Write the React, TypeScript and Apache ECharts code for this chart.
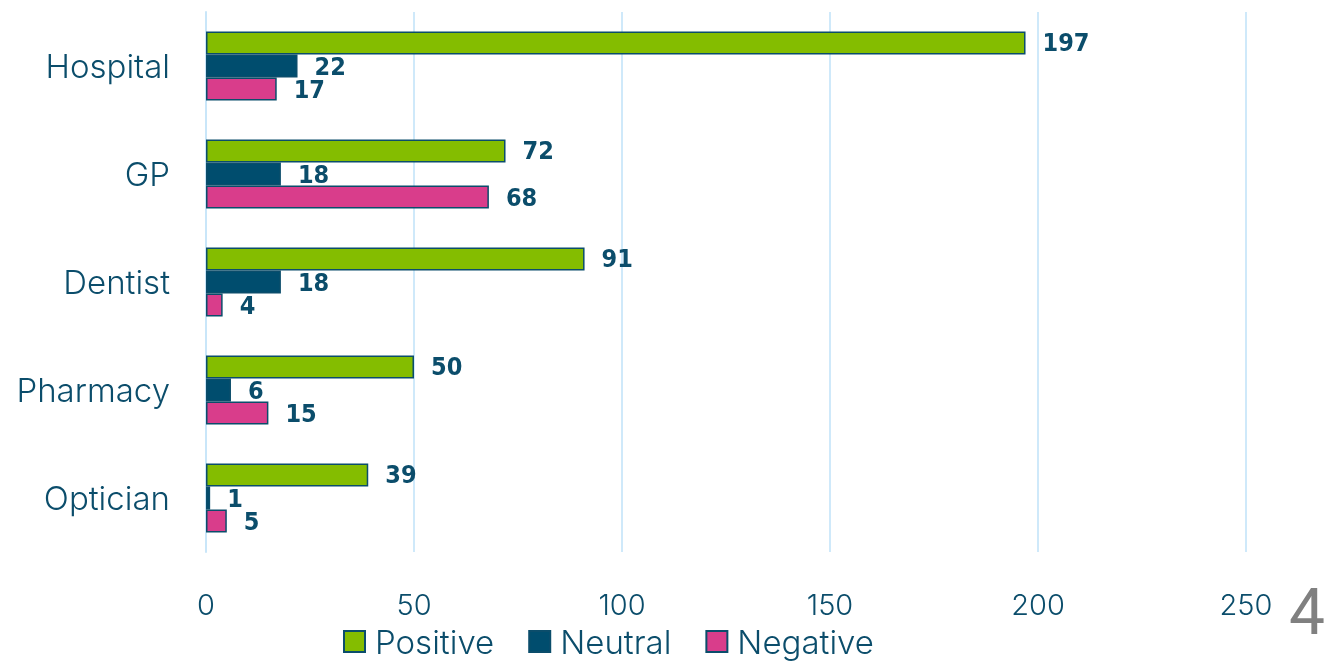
import React, { useEffect, useRef } from "react";
import * as echarts from "echarts";

const categories = ["Hospital", "GP", "Dentist", "Pharmacy", "Optician"];
const positive = [197, 72, 91, 50, 39];
const neutral = [22, 18, 18, 6, 1];
const negative = [17, 68, 4, 15, 5];
const seriesNames = ["Positive", "Neutral", "Negative"];
const colors = ["#84bd00", "#004d6e", "#d93d8b"];
const textColor = "#0b4d6b";

export default function App() {
  const ref = useRef<HTMLDivElement>(null);
  useEffect(() => {
    const chart = echarts.init(ref.current!, null, { renderer: "svg" });
    const data = [positive, neutral, negative];
    chart.setOption({
      animation: false,
      grid: { left: 206, right: 91, top: 12, bottom: 109, containLabel: false },
      legend: {
        bottom: -2,
        left: 338,
        itemWidth: 21,
        itemHeight: 21,
        itemGap: 34,
        icon: "rect",
        textStyle: {
          color: textColor,
          fontSize: 33,
          fontFamily: "Inter, Lato, sans-serif",
          fontWeight: 300,
          padding: [0, 0, 0, 5],
        },
        data: seriesNames,
      },
      xAxis: {
        type: "value",
        min: 0,
        max: 250,
        interval: 50,
        axisLine: { show: false },
        axisTick: { show: false },
        splitLine: { show: true, lineStyle: { color: "#cfe9fa", width: 2 } },
        axisLabel: { color: textColor, fontSize: 29, margin: 38, fontFamily: "Inter, Lato, sans-serif", fontWeight: 300 },
      },
      yAxis: {
        type: "category",
        inverse: true,
        data: categories,
        axisLine: { show: true, lineStyle: { color: "#c9e6f9", width: 2 } },
        axisTick: { show: false },
        axisLabel: { color: textColor, fontSize: 33, margin: 36, fontFamily: "Inter, Lato, sans-serif", fontWeight: 300 },
      },
      series: seriesNames.map((name, i) => ({
        name,
        type: "bar",
        data: data[i],
        barGap: "0%",
        barCategoryGap: "36%",
        itemStyle: { color: colors[i], borderColor: "#0b4d6b", borderWidth: 1.5 },
        label: {
          show: true,
          position: "right",
          distance: 17,
          color: textColor,
          fontSize: 25,
          fontWeight: "bold",
          fontFamily: "'DejaVu Sans Condensed', sans-serif",
        },
      })),
      graphic: [
        {
          type: "text",
          right: 12,
          top: 580,
          style: { text: "4", fontSize: 64, fill: "#808080", fontFamily: "Roboto, sans-serif" },
        },
      ],
    });
    return () => chart.dispose();
  }, []);
  return <div ref={ref} style={{ position: "fixed", left: 0, top: 0, width: 1337, height: 661 }} />;
}
